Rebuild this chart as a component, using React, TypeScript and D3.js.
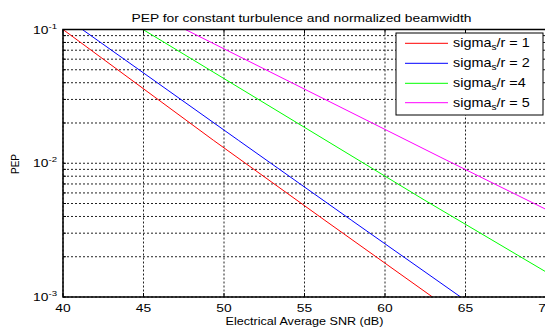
import React from "react";
import * as d3 from "d3";

const W = 545;
const H = 327;

const snrTicks = [40, 45, 50, 55, 60, 65, 70];
const pepMajor = [1e-3, 1e-2, 1e-1];
const pepMinor = [2e-3, 3e-3, 4e-3, 5e-3, 6e-3, 7e-3, 8e-3, 9e-3, 2e-2, 3e-2, 4e-2, 5e-2, 6e-2, 7e-2, 8e-2, 9e-2];
const majorExp = ["-3", "-2", "-1"];

const redSnr = [40, 49.34, 56.27, 62.95];
const redPep = [0.1, 0.01486, 0.00374, 0.001];
const blueSnr = [41.2, 50.89, 57.93, 64.7];
const bluePep = [0.1, 0.01486, 0.00374, 0.001];
const greenSnr = [44.97, 62.48, 70];
const greenPep = [0.1, 0.00528, 0.00154];
const magentaSnr = [47.6, 63.42, 70];
const magentaPep = [0.1, 0.01114, 0.00452];

const seriesNames = ["1", "2", "4", "5"];
const seriesEq = [" = ", " = ", " =", " = "];
const seriesColors = ["#ff0000", "#0000ff", "#00ff00", "#ff00ff"];

const FONT = "'Liberation Sans', Arial, Helvetica, sans-serif";
const SX = 1.2;

export default function App() {
  const left = 63, right = 546, top = 29.5, bottom = 297;
  const x = d3.scaleLinear().domain([40, 70]).range([left, right]);
  const y = d3.scaleLog().domain([1e-3, 1e-1]).range([bottom, top]);
  const line = d3
    .line<[number, number]>()
    .x((d) => x(d[0]))
    .y((d) => y(d[1]));

  const series = [
    { s: redSnr, p: redPep },
    { s: blueSnr, p: bluePep },
    { s: greenSnr, p: greenPep },
    { s: magentaSnr, p: magentaPep },
  ];

  const grid = { stroke: "#222", strokeWidth: 1, strokeDasharray: "2 2" };

  const lgX0 = 396, lgX1 = 543, lgY0 = 33, lgY1 = 115;
  const rowYs = [43.3, 63.3, 83.3, 102.7];

  return (
    <div style={{ position: "absolute", left: 0, top: 0 }}>
      <svg width={W} height={H} style={{ display: "block", background: "#fff" }}>
        <defs>
          <clipPath id="plotclip">
            <rect x={left} y={top} width={right - left} height={bottom - top} />
          </clipPath>
        </defs>
        <rect x={0} y={0} width={W} height={H} fill="#fff" />
        {/* grid */}
        {snrTicks.map((t) => (
          <line key={"vx" + t} x1={x(t)} x2={x(t)} y1={top} y2={bottom} {...grid} />
        ))}
        {pepMinor.concat(pepMajor).map((v) => (
          <line key={"hy" + v} x1={left} x2={right} y1={y(v)} y2={y(v)} {...grid} />
        ))}
        {/* ticks */}
        {snrTicks.map((t) => (
          <g key={"tx" + t}>
            <line x1={x(t)} x2={x(t)} y1={bottom} y2={bottom - 4} stroke="#000" />
            <line x1={x(t)} x2={x(t)} y1={top} y2={top + 4} stroke="#000" />
          </g>
        ))}
        {pepMinor.concat(pepMajor).map((v) => (
          <line key={"ty" + v} x1={left} x2={left + 3} y1={y(v)} y2={y(v)} stroke="#000" />
        ))}
        {/* series */}
        <g clipPath="url(#plotclip)">
          {series.map((sr, i) => (
            <path
              key={"s" + i}
              d={line(sr.s.map((s, j) => [s, sr.p[j]] as [number, number])) || ""}
              fill="none"
              stroke={seriesColors[i]}
              strokeWidth={1}
            />
          ))}
        </g>
        {/* axes box */}
        <rect x={left} y={top} width={right - left} height={bottom - top} fill="none" stroke="#000" strokeWidth={1.5} />
        {/* x tick labels */}
        {snrTicks.map((t) => (
          <text
            key={"xl" + t}
            transform={`translate(${x(t)},312) scale(${SX},1)`}
            textAnchor="middle"
            fontFamily={FONT}
            fontSize={11.5}
            fill="#000"
          >
            {t}
          </text>
        ))}
        {/* y tick labels */}
        {pepMajor.map((v, i) => (
          <text
            key={"yl" + v}
            transform={`translate(57,${y(v) + 4}) scale(${SX},1)`}
            textAnchor="end"
            fontFamily={FONT}
            fontSize={11.5}
            fill="#000"
          >
            10
            <tspan fontSize={8} dy={-5}>
              {majorExp[i]}
            </tspan>
          </text>
        ))}
        {/* title */}
        <text
          transform={`translate(${(left + right) / 2 - 3},22) scale(${SX},1)`}
          textAnchor="middle"
          fontFamily={FONT}
          fontSize={11.5}
          fill="#000"
        >
          PEP for constant turbulence and normalized beamwidth
        </text>
        {/* x label */}
        <text
          transform={`translate(${(left + right) / 2},324.5) scale(${SX},1)`}
          textAnchor="middle"
          fontFamily={FONT}
          fontSize={10.5}
          fill="#000"
        >
          Electrical Average SNR (dB)
        </text>
        {/* y label */}
        <text
          transform={`translate(19,164) rotate(-90)`}
          textAnchor="middle"
          fontFamily={FONT}
          fontSize={10}
          fill="#000"
        >
          PEP
        </text>
        {/* legend */}
        <rect x={lgX0} y={lgY0} width={lgX1 - lgX0} height={lgY1 - lgY0} fill="#fff" stroke="#000" strokeWidth={1} />
        {seriesNames.map((n, i) => (
          <g key={"lg" + i}>
            <line x1={405} x2={448} y1={rowYs[i]} y2={rowYs[i]} stroke={seriesColors[i]} strokeWidth={1} />
            <text
              transform={`translate(453,${rowYs[i] + 4}) scale(${SX},1)`}
              fontFamily={FONT}
              fontSize={12}
              fill="#000"
            >
              sigma
              <tspan fontSize={8.5} dy={3}>
                s
              </tspan>
              <tspan dy={-3}>{"/r" + seriesEq[i] + n}</tspan>
            </text>
          </g>
        ))}
      </svg>
    </div>
  );
}
